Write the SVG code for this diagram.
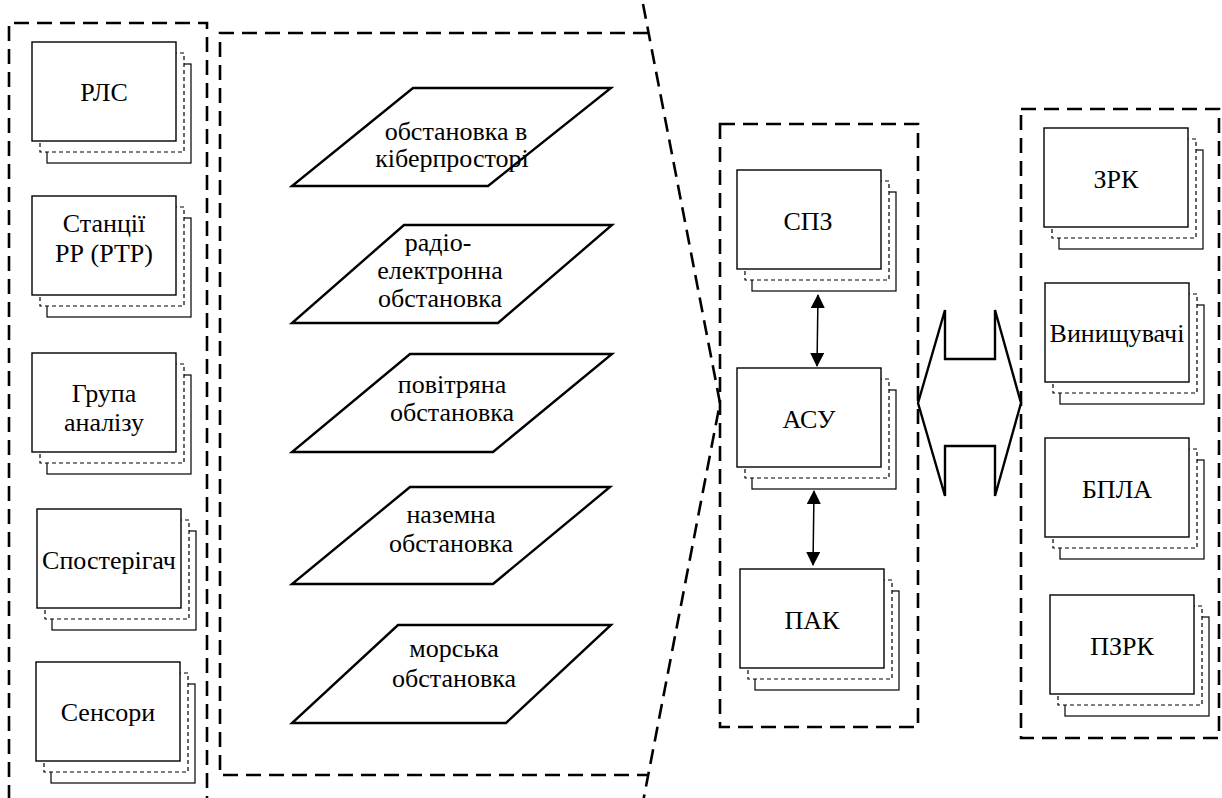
<svg xmlns="http://www.w3.org/2000/svg" width="1222" height="798" viewBox="0 0 1222 798">
<defs>
<style>
.bg{fill:#fff}
.grp{fill:none;stroke:#000;stroke-width:2.6;stroke-dasharray:15 8}
.f{fill:#fff;stroke:#000;stroke-width:1.4}
.b{fill:#fff;stroke:#000;stroke-width:1.2}
.d{fill:#fff;stroke:#000;stroke-width:1.2;stroke-dasharray:4 3}
.pg{fill:#fff;stroke:#000;stroke-width:2.4;stroke-linejoin:miter}
.t{font-family:'Liberation Serif','Times New Roman',serif;font-size:26px;fill:#000;text-anchor:middle}
.conn{stroke:#000;stroke-width:1.5;fill:none}
.big{fill:#fff;stroke:#000;stroke-width:2.4;stroke-linejoin:miter}
</style>
<g id="stack">
<rect class="b" x="15" y="22" width="144" height="99"/>
<rect class="d" x="8" y="11" width="144" height="99"/>
<rect class="f" x="0" y="0" width="144" height="99"/>
</g>
<marker id="ah" viewBox="0 0 14 14" refX="13" refY="7" markerWidth="14" markerHeight="14" markerUnits="userSpaceOnUse" orient="auto-start-reverse">
<path d="M0,0 L14,7 L0,14 Z" fill="#000"/>
</marker>
</defs>
<rect class="bg" x="0" y="0" width="1222" height="798"/>

<g id="groups">
<path class="grp" d="M9,800 V23 H207 V800"/>
<path class="grp" d="M648,33 H220 V775 H647.5"/>
<path class="grp" d="M643,4 L720,403 L643,802"/>
<rect class="grp" x="720" y="124" width="198" height="603"/>
<rect class="grp" x="1021" y="109" width="198" height="629"/>
</g>

<g id="n-rls"><use href="#stack" x="32" y="42"/><text class="t" x="104" y="101">РЛС</text></g>
<g id="n-stanc"><use href="#stack" x="32" y="196"/><text class="t" x="104" y="232">Станції</text><text class="t" x="104" y="262">РР (РТР)</text></g>
<g id="n-grupa"><use href="#stack" x="32" y="353"/><text class="t" x="104" y="402">Група</text><text class="t" x="104" y="431">аналізу</text></g>
<g id="n-spost"><use href="#stack" x="37" y="509"/><text class="t" x="109" y="569">Спостерігач</text></g>
<g id="n-sens"><use href="#stack" x="36" y="662"/><text class="t" x="108" y="721">Сенсори</text></g>

<g id="p-cyber"><polygon class="pg" points="413,88 611,88 488,186 292,186"/><text class="t" x="456" y="140">обстановка в</text><text class="t" x="452" y="167">кіберпросторі</text></g>
<g id="p-radio"><polygon class="pg" points="404,225 612,225 498,323 292,323"/><text class="t" x="438" y="251">радіо-</text><text class="t" x="440" y="279">електронна</text><text class="t" x="440" y="307">обстановка</text></g>
<g id="p-air"><polygon class="pg" points="410,354 612,354 493,452 292,452"/><text class="t" x="452" y="393">повітряна</text><text class="t" x="452" y="421">обстановка</text></g>
<g id="p-ground"><polygon class="pg" points="410,487 610,487 493,584 292,584"/><text class="t" x="451" y="523">наземна</text><text class="t" x="451" y="552">обстановка</text></g>
<g id="p-sea"><polygon class="pg" points="398,625 611,625 506,723 292,723"/><text class="t" x="454" y="657">морська</text><text class="t" x="454" y="687">обстановка</text></g>

<g id="n-spz"><use href="#stack" x="737" y="170"/><text class="t" x="808" y="230">СПЗ</text></g>
<g id="n-asu"><use href="#stack" x="737" y="368"/><text class="t" x="809" y="428">АСУ</text></g>
<g id="n-pak"><use href="#stack" x="740" y="569"/><text class="t" x="812" y="629">ПАК</text></g>

<g id="n-zrk"><use href="#stack" x="1044" y="128"/><text class="t" x="1116" y="188">ЗРК</text></g>
<g id="n-vyn"><use href="#stack" x="1045" y="283"/><text class="t" x="1117" y="342">Винищувачі</text></g>
<g id="n-bpla"><use href="#stack" x="1045" y="438"/><text class="t" x="1117" y="498">БПЛА</text></g>
<g id="n-pzrk"><use href="#stack" x="1050" y="595"/><text class="t" x="1122" y="655">ПЗРК</text></g>

<g id="connectors">
<line class="conn" x1="818" y1="295" x2="817" y2="366" marker-start="url(#ah)" marker-end="url(#ah)"/>
<line class="conn" x1="814" y1="491" x2="813" y2="565" marker-start="url(#ah)" marker-end="url(#ah)"/>
<polygon class="big" points="918,403 945,310 945,359 995,359 995,310 1021,403 995,496 995,446 945,446 945,496"/>
</g>
</svg>
